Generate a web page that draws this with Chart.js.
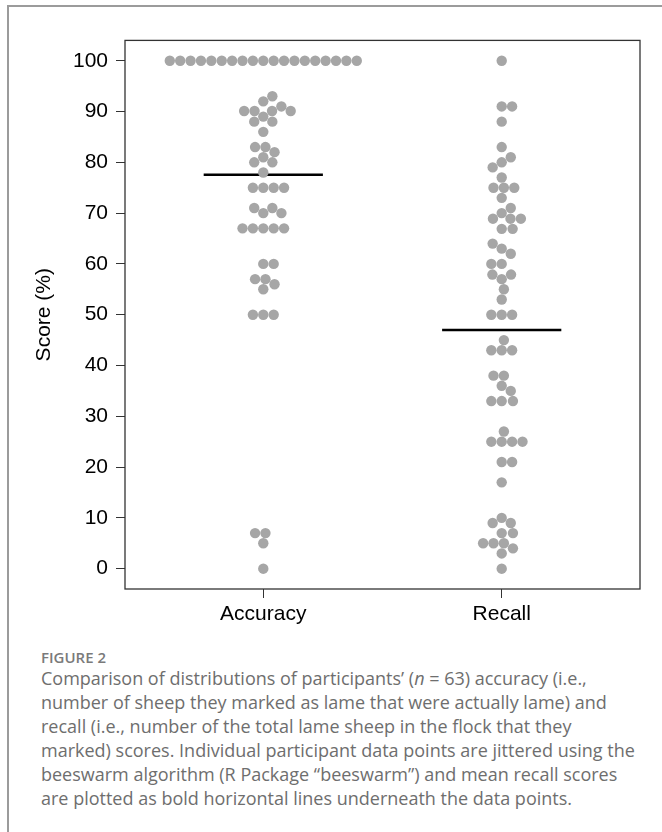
<!DOCTYPE html>
<html>
<head>
<meta charset="utf-8">
<script src="https://cdn.jsdelivr.net/npm/chart.js@4.4.0/dist/chart.umd.min.js"></script>
<style>
  html, body { margin: 0; padding: 0; background: #fff; }
  body { width: 662px; height: 832px; position: relative; overflow: hidden; }
  #frame { position: absolute; left: 7px; top: 5px; right: -4px; bottom: -4px;
           border-left: 2px solid #9b9b9b; border-top: 2px solid #9b9b9b; }
  #wrap { position: absolute; left: 0; top: 0; width: 662px; height: 640px; }
  #fig { position: absolute; left: 41px; top: 647px; font-family: "Open Sans", sans-serif;
         font-size: 15px; line-height: 20px; font-weight: 600; color: #7a7a7a; }
  #cap { position: absolute; left: 41px; top: 666px; font-family: "Open Sans", sans-serif;
         font-size: 18px; line-height: 24px; color: #6e6e6e; white-space: nowrap; }
</style>
</head>
<body>
<div id="frame"></div>
<div id="wrap"><canvas id="beeswarmChart" width="662" height="640"></canvas></div>
<div id="fig">FIGURE 2</div>
<div id="cap">Comparison of distributions of participants’ (<i>n</i> = 63) accuracy (i.e.,<br>number of sheep they marked as lame that were actually lame) and<br>recall (i.e., number of the total lame sheep in the flock that they<br>marked) scores. Individual participant data points are jittered using the<br>beeswarm algorithm (R Package “beeswarm”) and mean recall scores<br>are plotted as bold horizontal lines underneath the data points.</div>
<script>
// Groups on the x axis
const categories = ['Accuracy', 'Recall'];

// Participant scores (%), in participant order (order drives the swarm layout)
const accuracy = [
  100, 100, 100, 100, 100, 100, 100, 100, 100, 100,
  100, 100, 100, 100, 100, 100, 100, 100, 100,
  89, 90.1, 90.1, 88, 88, 86, 92, 93, 91, 90.1, 90.1,
  81, 80, 80, 78, 83, 83, 82,
  75, 75, 75, 75,
  70, 71, 71, 70,
  67, 67, 67, 67, 67,
  60, 60,
  55, 57, 57, 56,
  50, 50, 50,
  5, 7, 7,
  0
];
const recall = [
  100, 91, 91, 88,
  80, 81, 79, 83, 77, 75, 75, 75, 73, 70, 71, 68.9, 68.9, 68.9, 66.9, 66.9,
  63, 62, 64, 60, 60, 57, 57.9, 57.9, 55, 53,
  50, 50, 50,
  43, 43, 43, 45,
  36, 38, 38, 35, 33, 33, 33,
  25, 25, 25, 25, 27,
  21, 21,
  17,
  10, 9, 9, 7, 7, 5, 5, 4, 5, 3,
  0
];

const yTicks = [0, 10, 20, 30, 40, 50, 60, 70, 80, 90, 100];

const SWARM_SIZE = 2.045;   // point spacing, in y-axis units
const MEAN_HALF = 0.25;     // half width of the mean bar, in x-axis units
const FONT = "'Liberation Sans', Arial, sans-serif";

const mean = arr => arr.reduce((a, b) => a + b, 0) / arr.length;

// beeswarm "swarm" placement (R package beeswarm, priority = "none")
function swarm(values, size) {
  const placed = [];
  return values.map(v => {
    const near = placed.filter(p => Math.abs(v - p.y) < size);
    let best = 0;
    if (near.length) {
      const up = [], down = [];
      near.forEach(p => {
        const off = Math.sqrt(size * size - (v - p.y) ** 2);
        up.push(p.x + off);
        down.push(p.x - off);
      });
      best = Infinity;
      [0, ...up, ...down].forEach(c => {
        const bad = near.some(p => (c - p.x) ** 2 + (v - p.y) ** 2 < 0.999 * size * size);
        if (!bad && Math.abs(c) < Math.abs(best)) best = c;
      });
    }
    placed.push({ x: best, y: v });
    return best;
  });
}

const boxPlugin = {
  id: 'plotBox',
  afterDraw(chart) {
    const { ctx, chartArea: a } = chart;
    ctx.save();
    ctx.strokeStyle = '#333';
    ctx.lineWidth = 1.3;
    ctx.strokeRect(a.left, a.top, a.right - a.left, a.bottom - a.top);
    ctx.restore();
  }
};

function meanLine(vals, g) {
  const m = mean(vals);
  return {
    data: [{ x: g + 1 - MEAN_HALF, y: m }, { x: g + 1 + MEAN_HALF, y: m }],
    showLine: true,
    borderColor: '#000',
    borderWidth: 2.5,
    pointRadius: 0,
    order: 1
  };
}

function pointSet(vals, g) {
  return {
    data: vals.map(v => ({ x: g + 1, y: v })),
    backgroundColor: '#a6a6a6',
    borderWidth: 0,
    pointRadius: 5.2,
    pointHoverRadius: 5.2,
    order: 0
  };
}

const ctx = document.getElementById('beeswarmChart').getContext('2d');

const chart = new Chart(ctx, {
  type: 'scatter',
  data: {
    datasets: [
      pointSet(accuracy, 0),
      pointSet(recall, 1),
      meanLine(accuracy, 0),
      meanLine(recall, 1)
    ]
  },
  options: {
    responsive: false,
    animation: false,
    devicePixelRatio: 1,
    layout: { padding: { top: 40.4, right: 22, left: 0, bottom: 0 } },
    plugins: {
      legend: { display: false },
      tooltip: { enabled: false }
    },
    scales: {
      x: {
        type: 'linear',
        min: 0.42,
        max: 2.58,
        afterBuildTicks: s => { s.ticks = categories.map((c, i) => ({ value: i + 1 })); },
        afterFit: s => { s.height = 51; },
        grid: { drawOnChartArea: false, tickLength: 9, color: '#333' },
        border: { display: false },
        ticks: {
          callback: (v, i) => categories[i],
          color: '#000',
          font: { family: FONT, size: 21 },
          padding: 4,
          maxRotation: 0,
          autoSkip: false
        }
      },
      y: {
        min: -4,
        max: 104,
        afterBuildTicks: s => { s.ticks = yTicks.map(v => ({ value: v })); },
        afterFit: s => { s.width = 125; },
        grid: { drawOnChartArea: false, tickLength: 9, color: '#333' },
        border: { display: false },
        ticks: {
          color: '#000',
          font: { family: FONT, size: 21 },
          padding: 8
        },
        title: {
          display: true,
          text: 'Score (%)',
          color: '#000',
          font: { family: FONT, size: 21 },
          padding: { top: 32, bottom: 0 }
        }
      }
    }
  },
  plugins: [boxPlugin]
});

// second pass: spread the points with the swarm layout, using the scales' pixel ratio
function layoutSwarm() {
  const xs = chart.scales.x, ys = chart.scales.y;
  const pxY = Math.abs(ys.getPixelForValue(1) - ys.getPixelForValue(0));
  const pxX = xs.getPixelForValue(1) - xs.getPixelForValue(0);
  [accuracy, recall].forEach((vals, g) => {
    const offs = swarm(vals, SWARM_SIZE);
    chart.data.datasets[g].data = vals.map((v, i) => ({ x: g + 1 + offs[i] * pxY / pxX, y: v }));
  });
  chart.update('none');
}
layoutSwarm();
</script>
</body>
</html>
